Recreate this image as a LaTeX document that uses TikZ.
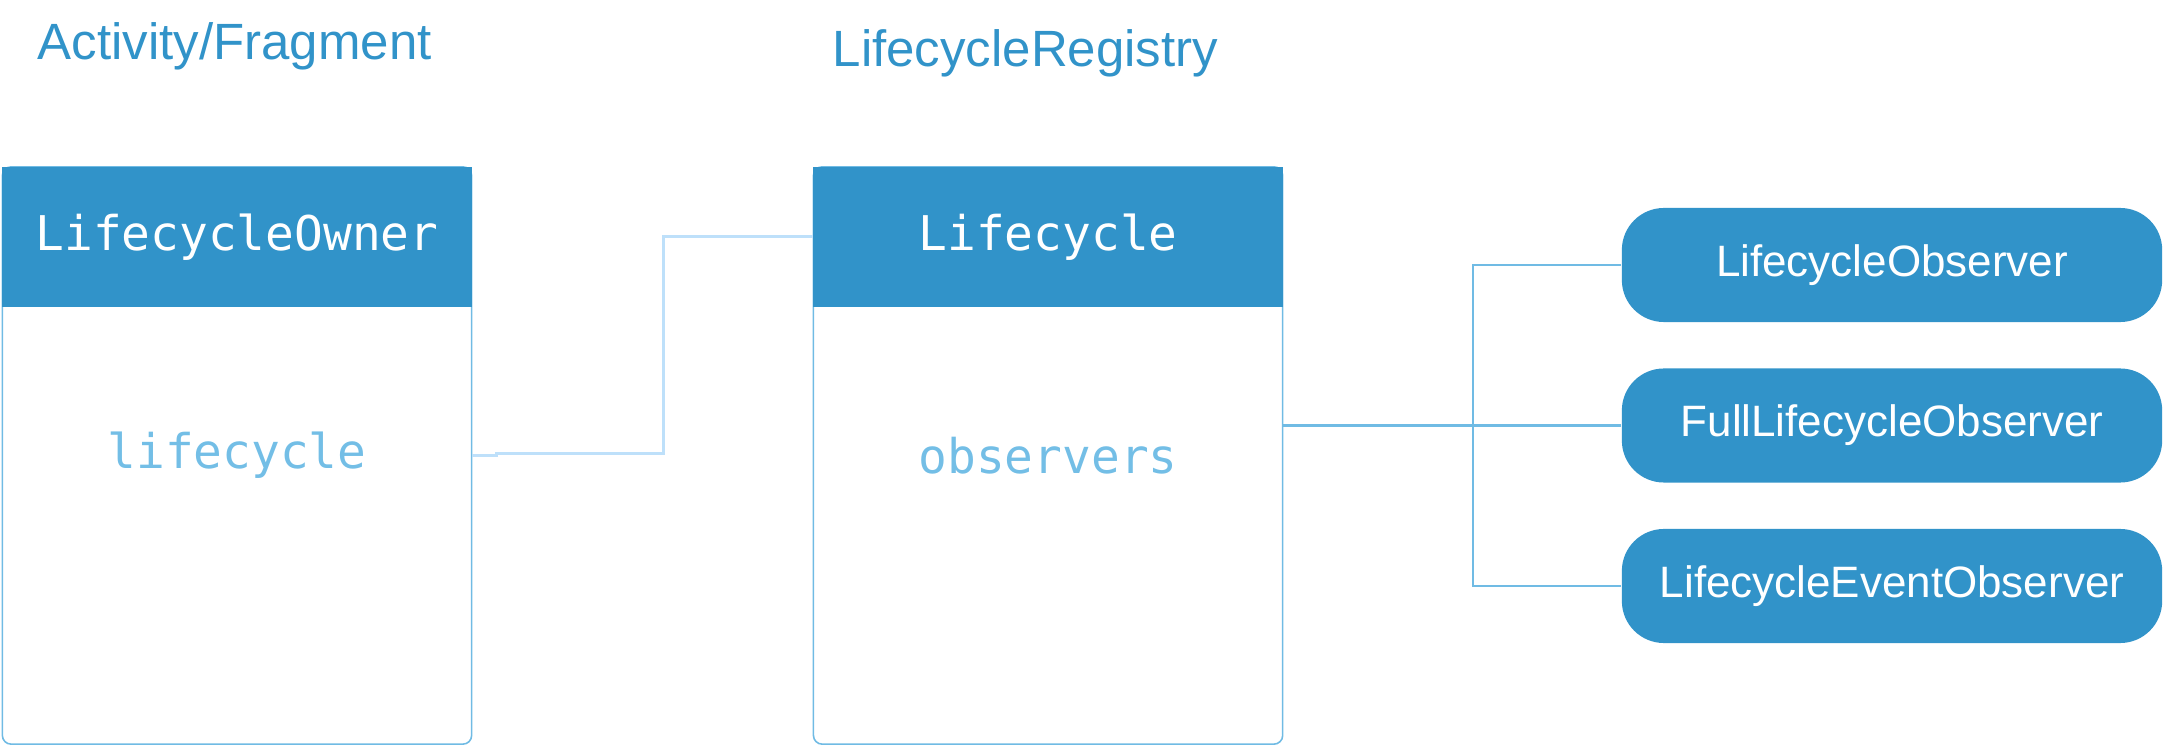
\documentclass[tikz,border=0pt]{standalone}
\usepackage{fontspec}
\setmainfont{Liberation Sans}
\newfontfamily\codefont{DejaVu Sans Mono}
\usepackage{tikz}
\usetikzlibrary{positioning,shapes}

\definecolor{headblue}{RGB}{49,147,201}
\definecolor{edgeblue}{RGB}{112,187,228}
\definecolor{fieldblue}{RGB}{115,190,230}
\definecolor{paleblue}{RGB}{190,224,250}

\begin{document}
\begin{tikzpicture}[x=0.01cm,y=-0.01cm]

\tikzstyle{classbox}=[draw=edgeblue,line width=0.45pt,rectangle,rounded corners=2.5pt,minimum width=4.69cm,minimum height=5.77cm,inner sep=0pt]
\tikzstyle{classhead}=[fill=headblue,rectangle,minimum width=4.69cm,minimum height=1.40cm,inner sep=0pt,text=white,font=\codefont\fontsize{13.6}{16}\selectfont]
\tikzstyle{field}=[text=fieldblue,inner sep=0pt,font=\codefont\fontsize{13.6}{16}\selectfont]
\tikzstyle{boxtitle}=[text=headblue,inner sep=0pt,font=\fontsize{14.5}{17}\selectfont]
\tikzset{observer/.style={fill=headblue,rectangle,rounded corners=0.42cm,minimum width=5.40cm,minimum height=1.14cm,inner sep=0pt,text=white,font=\fontsize{12.5}{15}\selectfont}}

\useasboundingbox (0,0) rectangle (2164,746);

\node[classbox]                    (owner) at (237,455.5) {};
\node[classbox, right=3.40cm of owner] (registry) {};

\node[classhead, anchor=north] (ownerhead)    at (owner.north)    {LifecycleOwner};
\node[classhead, anchor=north] (registryhead) at (registry.north) {Lifecycle};

\node[field] (ownerfield)    at (owner.center)    {lifecycle};
\node[field] (registryfield) at (registry.center) {observers};

\node[boxtitle, anchor=base west] (ownertitle)    at (37,60)  {Activity/Fragment};
\node[boxtitle, anchor=base west] (registrytitle) at (832,67) {LifecycleRegistry};

\node[observer]                    (obs1) at (1892,265) {LifecycleObserver};
\node[observer, below=0.45cm of obs1] (obs2) {FullLifecycleObserver};
\node[observer, below=0.45cm of obs2] (obs3) {LifecycleEventObserver};

\draw[paleblue,line width=0.75pt]
  (owner.east) -- ++(24,0) -- ++(0,-2) -- ++(167,0) |- (registryhead.west);

\draw[edgeblue,line width=0.6pt]
  (obs2.west) -- (obs2.west -| registry.east)
  (obs1.west) -- ++(-148,0) |- (obs3.west);

\end{tikzpicture}
\end{document}
